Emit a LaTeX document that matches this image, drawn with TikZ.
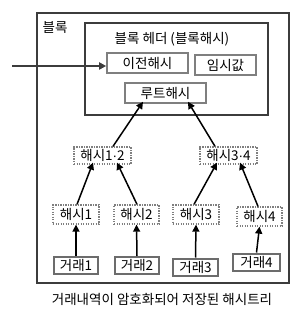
\documentclass[tikz,border=0pt]{standalone}
\usepackage{fontspec}
\setmainfont{Noto Sans CJK KR}
\newfontfamily\latinf{Liberation Sans}
\usetikzlibrary{calc,arrows.meta}
\definecolor{darkb}{HTML}{3C3C3C}
\definecolor{midb}{HTML}{7F7F7F}
\newcommand{\mdot}{{\latinf\textperiodcentered}}
\begin{document}
\begin{tikzpicture}[x=1pt,y=-1pt,
  fs/.style={font=\fontsize{13.5}{15}\selectfont},
  txt/.style={fs, inner sep=0pt},
  solidbox/.style={fs, draw=midb, line width=1.6pt, minimum width=#1, minimum height=20pt, inner sep=0pt},
  trbox/.style={fs, draw=midb!85!black, line width=2pt, minimum width=44pt, minimum height=17pt, inner sep=0pt},
  dotbox/.style={fs, draw=midb, line width=1.3pt, dash pattern=on 1.3pt off 1.2pt, minimum width=#1, minimum height=18pt, inner sep=0pt},
  link/.style={line width=1.5pt, -{Triangle[length=7pt,width=7pt]}},
]
\useasboundingbox (0,0) rectangle (305,315);
% outer block
\node[draw=darkb, line width=2.6pt, minimum width=252pt, minimum height=270pt, inner sep=0pt] (outer) at (163,148) {};
\node[txt] (blk) at (55,27) {블록};
% header
\node[draw=darkb, line width=2.6pt, minimum width=183pt, minimum height=92pt, inner sep=0pt] (header) at (176.5,69) {};
\node[txt] (htitle) at (172,39) {블록 헤더 (블록해시)};
\node[solidbox=81pt] (prev) at (147.5,63) {이전해시};
\node[solidbox=61pt] (nonce) at (225.5,65) {임시값};
\node[solidbox=81pt] (root) at (165.5,93) {루트해시};
% hash tree
\node[dotbox=57pt, minimum height=17pt] (h12) at (102.5,155.5) {해시1\mdot2};
\node[dotbox=57pt, minimum height=17pt] (h34) at (228.5,155.5) {해시3\mdot4};
\node[dotbox=46pt, minimum height=19pt] (h1) at (76,214.5) {해시1};
\node[dotbox=45pt, minimum height=19pt] (h2) at (136.5,214.5) {해시2};
\node[dotbox=46pt, minimum height=19pt] (h3) at (196,214.5) {해시3};
\node[dotbox=45pt, minimum height=19pt] (h4) at (259.5,216.5) {해시4};
\node[trbox] (t1) at (76,265.5) {거래1};
\node[trbox] (t2) at (137,265.5) {거래2};
\node[trbox, minimum width=45pt] (t3) at (195.5,267) {거래3};
\node[trbox, minimum width=47pt] (t4) at (256.5,262) {거래4};
\node[txt] (cap) at (162,299) {거래내역이 암호화되어 저장된 해시트리};
% connectors
\coordinate (in) at (12,66);
\draw[line width=2pt, darkb, -{Triangle[length=7pt,width=7pt]}] (in) -- ($(prev.west)+(0,3)$);
\draw[link] (t1.north) -- (h1.south);
\draw[link] (t2.north) -- (h2.south);
\draw[link] (t3.north) -- (h3.south);
\draw[link] (t4.north) -- (h4.south);
\draw[link] ($(h1.north)+(1,0)$) -- ($(h12.south)+(-9.5,-2)$);
\draw[link] ($(h2.north)+(0.5,0)$) -- ($(h12.south)+(14.5,-2)$);
\draw[link] ($(h3.north)+(-2,0)$) -- ($(h34.south)+(-11.5,-2)$);
\draw[link] ($(h4.north)+(-1.5,0)$) -- ($(h34.south)+(11.5,-2)$);
\draw[link] ($(h12.north)+(10.5,0)$) -- ($(root.south)+(-22.5,-2)$);
\draw[link] ($(h34.north)+(-13.5,0)$) -- ($(root.south)+(22.5,-2)$);
\end{tikzpicture}
\end{document}
